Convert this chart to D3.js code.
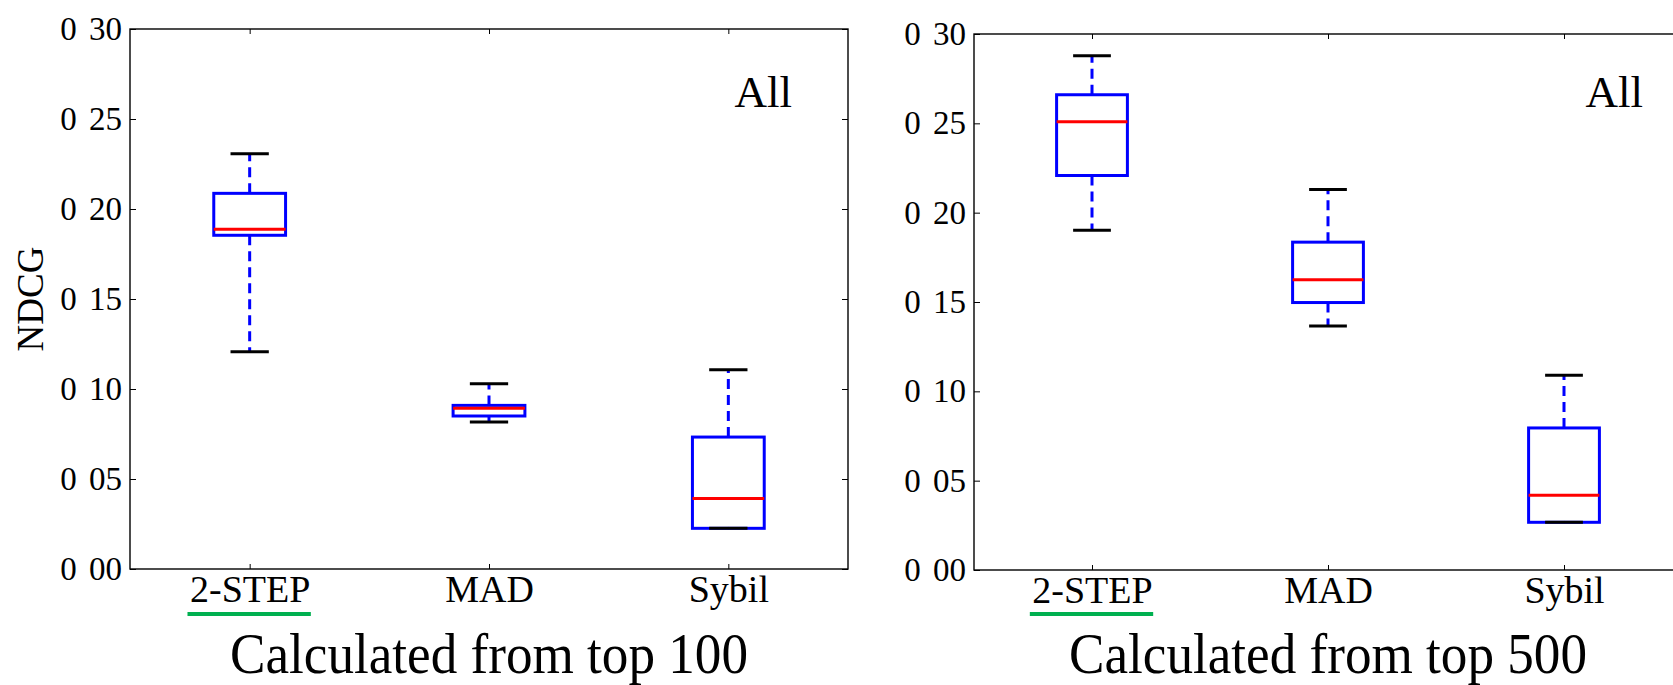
<!DOCTYPE html>
<html>
<head>
<meta charset="utf-8">
<style>
  body { margin: 0; background: #fff; }
  svg text { font-family: "Liberation Serif", "DejaVu Serif", serif !important; fill: #000; }
</style>
</head>
<body>
<svg width="1673" height="685"></svg>
<script src="https://d3js.org/d3.v7.min.js"></script>
<script>

// categories, ticks and labels
const categories = ['2-STEP', 'MAD', 'Sybil'];
const yTicks = [0, 0.05, 0.10, 0.15, 0.20, 0.25, 0.30];
const yTickLabels = ['0 00', '0 05', '0 10', '0 15', '0 20', '0 25', '0 30'];
const titles = ['Calculated from top 100', 'Calculated from top 500'];
const cornerLabel = 'All';
const yLabel = 'NDCG';

// box stats, top 100
const lo100  = [0.1207, 0.0817, 0.0226];
const q1_100 = [0.1854, 0.0850, 0.0226];
const med100 = [0.1887, 0.0893, 0.0391];
const q3_100 = [0.2087, 0.0909, 0.0733];
const hi100  = [0.2307, 0.1029, 0.1107];

// box stats, top 500
const lo500  = [0.1902, 0.1366, 0.0267];
const q1_500 = [0.2208, 0.1497, 0.0267];
const med500 = [0.2509, 0.1624, 0.0418];
const q3_500 = [0.2660, 0.1835, 0.0795];
const hi500  = [0.2878, 0.2130, 0.1090];

const serif = '"Liberation Serif", "DejaVu Serif", serif';
const svg = d3.select('svg');

const panels = [
  {left: 130, top: 29, width: 718, height: 540, allRight: 56,
   lo: lo100, q1: q1_100, med: med100, q3: q3_100, hi: hi100, title: titles[0], ylab: true},
  {left: 974, top: 34, width: 708, height: 536, allRight: 39,
   lo: lo500, q1: q1_500, med: med500, q3: q3_500, hi: hi500, title: titles[1], ylab: false}
];

panels.forEach(p => {
  const g = svg.append('g').attr('transform', `translate(${p.left},${p.top})`);
  const y = d3.scaleLinear().domain([0, 0.3]).range([p.height, 0]);
  const x = d3.scalePoint().domain(categories).range([0, p.width]).padding(0.5);
  const bw = x.step() * 0.3;
  const cw = x.step() * 0.16;

  // axes, ticks pointing inward
  const left = g.append('g')
    .call(d3.axisLeft(y).tickValues(yTicks).tickSize(-6).tickSizeOuter(0).tickPadding(8)
      .tickFormat((d, i) => yTickLabels[i]));
  left.select('.domain').remove();
  left.attr('font-family', serif).attr('font-size', 33);
  left.selectAll('text').style('font-family', serif).attr('font-size', 33)
    .style('word-spacing', '4px');

  const right = g.append('g').attr('transform', `translate(${p.width},0)`)
    .call(d3.axisRight(y).tickValues(yTicks).tickSize(-6).tickSizeOuter(0).tickFormat(''));
  right.select('.domain').remove();

  const top = g.append('g')
    .call(d3.axisTop(x).tickSize(-5).tickSizeOuter(0).tickFormat(''));
  top.select('.domain').remove();

  const bottom = g.append('g').attr('transform', `translate(0,${p.height})`)
    .call(d3.axisBottom(x).tickSize(-5).tickSizeOuter(0).tickPadding(6));
  bottom.select('.domain').remove();
  bottom.attr('font-family', serif).attr('font-size', 38);
  bottom.selectAll('text').style('font-family', serif).attr('font-size', 38);

  g.selectAll('.tick line').attr('stroke', '#000').attr('stroke-width', 1);

  g.append('rect')
    .attr('width', p.width).attr('height', p.height)
    .attr('fill', 'none').attr('stroke', '#000').attr('stroke-width', 1.4);

  const rows = categories.map((c, i) => ({c, lo: p.lo[i], q1: p.q1[i], med: p.med[i], q3: p.q3[i], hi: p.hi[i]}));

  // whiskers
  const wg = g.append('g').attr('stroke', '#0000ff').attr('stroke-width', 3).attr('stroke-dasharray', '10,6');
  wg.selectAll('.wu').data(rows).join('line')
    .attr('x1', d => x(d.c)).attr('x2', d => x(d.c))
    .attr('y1', d => y(d.q3)).attr('y2', d => y(d.hi));
  wg.selectAll('.wl').data(rows).join('line')
    .attr('x1', d => x(d.c)).attr('x2', d => x(d.c))
    .attr('y1', d => y(d.q1)).attr('y2', d => y(d.lo));

  // boxes
  g.append('g').selectAll('rect').data(rows).join('rect')
    .attr('x', d => x(d.c) - bw / 2).attr('width', bw)
    .attr('y', d => y(d.q3)).attr('height', d => y(d.q1) - y(d.q3))
    .attr('fill', 'none').attr('stroke', '#0000ff').attr('stroke-width', 3);

  // caps
  const cg = g.append('g').attr('stroke', '#000').attr('stroke-width', 3);
  ['hi', 'lo'].forEach(k => {
    cg.selectAll('.c' + k).data(rows).join('line')
      .attr('x1', d => x(d.c) - cw / 2).attr('x2', d => x(d.c) + cw / 2)
      .attr('y1', d => y(d[k])).attr('y2', d => y(d[k]));
  });

  // medians
  g.append('g').selectAll('line').data(rows).join('line')
    .attr('x1', d => x(d.c) - bw / 2).attr('x2', d => x(d.c) + bw / 2)
    .attr('y1', d => y(d.med)).attr('y2', d => y(d.med))
    .attr('stroke', '#ff0000').attr('stroke-width', 3);

  // corner label
  g.append('text').text(cornerLabel)
    .attr('x', p.width - p.allRight).attr('y', 107 - p.top)
    .attr('text-anchor', 'end').attr('font-size', 45).style('font-family', serif);

  // green underline under the first category label
  const bb = bottom.select('.tick text').node().getBBox();
  const t0 = x(categories[0]);
  svg.append('line')
    .attr('x1', p.left + t0 + bb.x - 2).attr('x2', p.left + t0 + bb.x + bb.width + 1)
    .attr('y1', 614).attr('y2', 614)
    .attr('stroke', '#00b050').attr('stroke-width', 4);

  // panel title
  svg.append('text').text(p.title)
    .attr('x', p.left + p.width / 2).attr('y', 673)
    .attr('text-anchor', 'middle').attr('font-size', 56).style('font-family', serif)
    .attr('textLength', 518).attr('lengthAdjust', 'spacingAndGlyphs');

  if (p.ylab) {
    g.append('text').text(yLabel)
      .attr('transform', `translate(-87,${p.height / 2}) rotate(-90)`)
      .attr('text-anchor', 'middle').attr('font-size', 37).style('font-family', serif);
  }
});
</script>
</body>
</html>
